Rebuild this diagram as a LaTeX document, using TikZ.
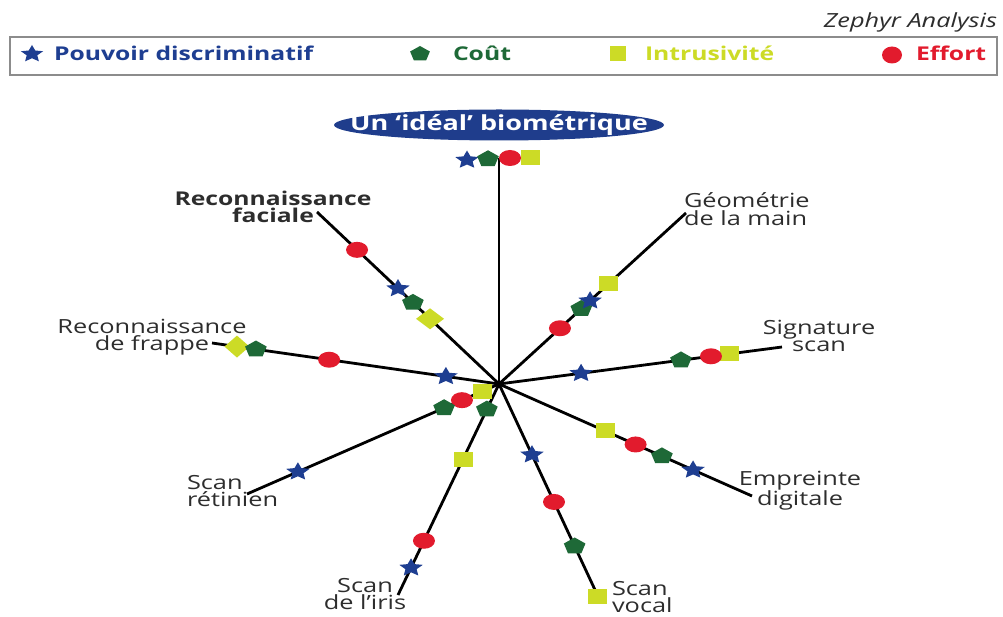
\documentclass[tikz,border=0pt]{standalone}
\usepackage{fontspec}
\setmainfont[FakeStretch=1.3]{Open Sans}
\usetikzlibrary{shapes.geometric,calc}

\definecolor{cBlue}{RGB}{30,62,145}
\definecolor{cGreen}{RGB}{30,105,55}
\definecolor{cYellow}{RGB}{204,219,38}
\definecolor{cRed}{RGB}{226,27,45}
\definecolor{cNavy}{RGB}{31,61,140}
\definecolor{cText}{RGB}{45,45,45}
\definecolor{cFrame}{RGB}{140,140,140}

\begin{document}
\begin{tikzpicture}[x=1pt,y=-1pt,
  every node/.style={inner sep=0pt,outer sep=0pt},
  spoke/.style={line width=2.8pt,black},
  mstar/.style={star,star points=5,star point ratio=2.1,minimum size=19pt,fill=cBlue,xscale=1.3},
  mpent/.style={regular polygon,regular polygon sides=5,minimum size=17.5pt,fill=cGreen,xscale=1.3},
  mcirc/.style={ellipse,minimum width=22pt,minimum height=16pt,fill=cRed},
  msq/.style={rectangle,minimum width=19pt,minimum height=15pt,fill=cYellow},
  mdia/.style={diamond,minimum width=28pt,minimum height=21pt,fill=cYellow},
  label/.style={font=\fontsize{19.5pt}{17.5pt}\selectfont,text=cText},
  legtext/.style={font=\fontsize{19pt}{19pt}\selectfont\bfseries,anchor=base west},
]
\useasboundingbox (0,0) rectangle (1003,617);

% ---- source and legend ----
\node[anchor=base east,font=\fontsize{19.5pt}{19.5pt}\selectfont\itshape,text=cText] (src) at (997,28) {Zephyr Analysis};
\node[draw=cFrame,line width=1.3pt,minimum width=987pt,minimum height=38pt,anchor=north west] (legend) at (10,37) {};
\path (32,54) node[mstar,minimum size=18pt] (k1) {};
\node[legtext,text=cBlue] (t1) at (54,61) {Pouvoir discriminatif};
\path (420,54) node[mpent,minimum size=16pt] (k2) {};
\node[legtext,text=cGreen] (t2) at (453,61) {Coût};
\path (618,54) node[msq,minimum width=16pt,minimum height=15pt] (k3) {};
\node[legtext,text=cYellow] (t3) at (645,61) {Intrusivité};
\path (892,55) node[mcirc,minimum width=20pt,minimum height=17pt] (k4) {};
\node[legtext,text=cRed] (t4) at (916,61) {Effort};

% ---- the ideal ----
\coordinate (idealc) at (499,125);
\fill[cNavy] (idealc) ellipse [x radius=165pt,y radius=15.5pt];
\node[font=\fontsize{20.8pt}{20.8pt}\selectfont\bfseries,text=white] (ideal) at (idealc) {Un ‘idéal’ biométrique};

% ---- spokes ----
\coordinate (c) at (499,384);
\coordinate (eTop) at (499,158);
\coordinate (eFac) at (317,212);
\coordinate (eMain) at (686,213);
\coordinate (eFrap) at (212,343);
\coordinate (eSig) at (782,347);
\coordinate (eEmp) at (752,496);
\coordinate (eVoc) at (596,592);
\coordinate (eIris) at (398,595);
\coordinate (eRet) at (247,494);
\foreach \e in {eTop,eFac,eMain,eFrap,eSig,eEmp,eVoc,eIris,eRet}
  \draw[spoke] (c) -- (\e);

% ---- labels ----
\node[label,font=\fontsize{19pt}{17pt}\selectfont\bfseries,align=center,anchor=north] (lFac) at (273,191) {Reconnaissance\\faciale};
\node[label,align=left,anchor=north west] (lMain) at (684,193) {Géométrie\\de la main};
\node[label,align=center,anchor=north] (lFrap) at (152,319) {Reconnaissance\\de frappe};
\node[label,align=center,anchor=north] (lSig) at (819,320) {Signature\\scan};
\node[label,align=center,anchor=north] (lEmp) at (800,471) {Empreinte\\digitale};
\node[label,align=left,anchor=north west] (lRet) at (187,475) {Scan\\rétinien};
\node[label,align=center,anchor=north] (lIris) at (365,578) {Scan\\de l'iris};
\node[label,align=left,anchor=north west] (lVoc) at (612,581) {Scan\\vocal};

% ---- scores on each spoke ----
% ideal
\path (467,160) node[mstar] (topS) {};
\path (488,159) node[mpent] (topP) {};
\path (530,158) node[msq] (topQ) {};
\path (510,158) node[mcirc] (topC) {};
% facial recognition
\path ($(c)!0.78!(eFac)$) node[mcirc] (facC) {};
\path ($(c)!0.555!(eFac)$) node[mstar] (facS) {};
\path ($(c)!0.473!(eFac)$) node[mpent] (facP) {};
\path ($(c)!0.379!(eFac)$) node[mdia] (facQ) {};
% hand geometry
\path ($(c)!0.326!(eMain)$) node[mcirc] (mainC) {};
\path ($(c)!0.44!(eMain)$) node[mpent] (mainP) {};
\path ($(c)!0.487!(eMain)$) node[mstar] (mainS) {};
\path ($(c)!0.588!(eMain)$) node[msq] (mainQ) {};
% keystroke
\path ($(c)!0.185!(eFrap)$) node[mstar] (frapS) {};
\path ($(c)!0.592!(eFrap)$) node[mcirc] (frapC) {};
\path ($(c)!0.913!(eFrap)$) node[mdia,minimum width=25pt,minimum height=22pt] (frapQ) {};
\path ($(c)!0.847!(eFrap)$) node[mpent] (frapP) {};
% signature
\path ($(c)!0.29!(eSig)$) node[mstar] (sigS) {};
\path ($(c)!0.643!(eSig)$) node[mpent] (sigP) {};
\path ($(c)!0.816!(eSig)$) node[msq] (sigQ) {};
\path ($(c)!0.749!(eSig)$) node[mcirc] (sigC) {};
% fingerprint
\path ($(c)!0.419!(eEmp)$) node[msq] (empQ) {};
\path ($(c)!0.54!(eEmp)$) node[mcirc] (empC) {};
\path ($(c)!0.644!(eEmp)$) node[mpent] (empP) {};
\path ($(c)!0.767!(eEmp)$) node[mstar] (empS) {};
% voice
\path ($(c)!0.34!(eVoc)$) node[mstar] (vocS) {};
\path ($(c)!0.567!(eVoc)$) node[mcirc] (vocC) {};
\path ($(c)!0.78!(eVoc)$) node[mpent] (vocP) {};
\path ($(c)!1.02!(eVoc)$) node[msq] (vocQ) {};
% iris
\path ($(c)!0.12!(eIris)$) node[mpent] (irisP) {};
\path ($(c)!0.356!(eIris)$) node[msq] (irisQ) {};
\path ($(c)!0.743!(eIris)$) node[mcirc] (irisC) {};
\path ($(c)!0.871!(eIris)$) node[mstar] (irisS) {};
% retina
\path ($(c)!0.067!(eRet)$) node[msq] (retQ) {};
\path ($(c)!0.147!(eRet)$) node[mcirc] (retC) {};
\path ($(c)!0.218!(eRet)$) node[mpent] (retP) {};
\path ($(c)!0.798!(eRet)$) node[mstar] (retS) {};
\end{tikzpicture}
\end{document}
